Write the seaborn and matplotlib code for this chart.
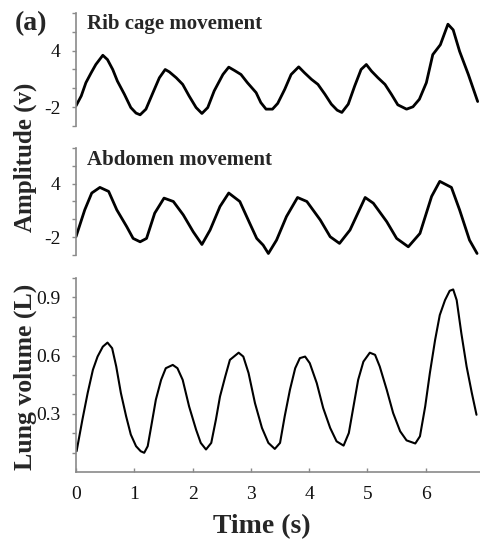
import matplotlib
matplotlib.use("Agg")
import matplotlib.pyplot as plt
import seaborn as sns

# ---------------- data ----------------
rib_t = [0.00, 0.09, 0.17, 0.26, 0.34, 0.46, 0.54, 0.63, 0.71, 0.83, 0.94, 1.03, 1.10,
         1.20, 1.32, 1.43, 1.53, 1.60, 1.72, 1.83, 1.94, 2.06, 2.16, 2.26, 2.37, 2.52,
         2.62, 2.72, 2.83, 2.94, 3.09, 3.17, 3.26, 3.37, 3.46, 3.58, 3.69, 3.82, 3.92,
         4.04, 4.15, 4.27, 4.38, 4.48, 4.56, 4.67, 4.78, 4.89, 4.98, 5.07, 5.18, 5.30,
         5.41, 5.52, 5.67, 5.78, 5.89, 6.01, 6.12, 6.25, 6.38, 6.47, 6.58, 6.73, 6.89]
rib_v = [-1.86, -0.81, 0.60, 1.65, 2.53, 3.51, 3.05, 2.00, 0.77, -0.63, -2.04, -2.63, -2.81,
         -2.21, -0.46, 1.12, 2.00, 1.75, 1.12, 0.42, -0.81, -2.04, -2.67, -2.04, -0.28, 1.47,
         2.25, 1.89, 1.47, 0.60, -0.46, -1.51, -2.21, -2.21, -1.60, -0.11, 1.47, 2.28, 1.65,
         0.95, 0.42, -0.63, -1.68, -2.32, -2.56, -1.68, 0.24, 2.00, 2.53, 1.82, 1.12, 0.42,
         -0.63, -1.75, -2.21, -1.96, -1.16, 0.60, 3.58, 4.63, 6.81, 6.21, 3.93, 1.47, -1.40]

abd_t = [0.00, 0.15, 0.27, 0.41, 0.56, 0.70, 0.87, 0.98, 1.10, 1.21, 1.35, 1.51, 1.67,
         1.84, 2.01, 2.16, 2.30, 2.47, 2.62, 2.81, 2.98, 3.10, 3.21, 3.30, 3.44, 3.61,
         3.80, 3.96, 4.19, 4.36, 4.52, 4.70, 4.96, 5.10, 5.33, 5.50, 5.70, 5.90, 6.10,
         6.24, 6.44, 6.58, 6.75, 6.88]
abd_v = [-1.95, 1.06, 2.95, 3.58, 3.13, 1.06, -0.82, -2.14, -2.52, -2.14, 0.69, 2.38, 2.00,
         0.50, -1.39, -2.82, -1.20, 1.44, 2.95, 2.00, -0.44, -2.14, -2.89, -3.83, -2.33, 0.31,
         2.45, 2.00, -0.07, -1.95, -2.70, -1.20, 2.45, 1.81, -0.26, -2.14, -3.08, -1.58, 2.57,
         4.26, 3.58, 1.06, -2.33, -3.83]

lung_t = [0.01, 0.11, 0.20, 0.29, 0.37, 0.46, 0.54, 0.62, 0.69, 0.77, 0.86, 0.94, 1.03,
          1.11, 1.17, 1.23, 1.29, 1.37, 1.46, 1.54, 1.66, 1.74, 1.83, 1.94, 2.06, 2.14,
          2.23, 2.32, 2.40, 2.47, 2.56, 2.64, 2.79, 2.87, 2.96, 3.07, 3.19, 3.30, 3.41,
          3.50, 3.58, 3.67, 3.76, 3.84, 3.93, 4.01, 4.13, 4.24, 4.36, 4.47, 4.59, 4.68,
          4.76, 4.84, 4.93, 5.04, 5.13, 5.21, 5.33, 5.44, 5.56, 5.67, 5.82, 5.90, 5.99,
          6.07, 6.16, 6.24, 6.33, 6.41, 6.47, 6.53, 6.61, 6.70, 6.79, 6.87]
lung_v = [0.107, 0.27, 0.407, 0.527, 0.595, 0.646, 0.667, 0.638, 0.544, 0.407, 0.287, 0.193,
          0.133, 0.107, 0.099, 0.133, 0.235, 0.373, 0.475, 0.535, 0.552, 0.535, 0.475, 0.338,
          0.218, 0.150, 0.116, 0.150, 0.27, 0.389, 0.492, 0.578, 0.615, 0.595, 0.510, 0.355,
          0.227, 0.150, 0.119, 0.150, 0.287, 0.424, 0.535, 0.587, 0.595, 0.561, 0.458, 0.330,
          0.227, 0.158, 0.136, 0.201, 0.338, 0.475, 0.569, 0.615, 0.604, 0.544, 0.424, 0.304,
          0.210, 0.163, 0.147, 0.184, 0.338, 0.510, 0.681, 0.809, 0.886, 0.934, 0.941, 0.886,
          0.715, 0.544, 0.407, 0.295]

amp_ticks = [-4, -2, 0, 2, 4, 6, 8]
amp_labels = ["", "-2", "", "", "4", "", ""]
lung_ticks = [0.1, 0.2, 0.3, 0.4, 0.5, 0.6, 0.7, 0.8, 0.9, 1.0]
lung_labels = ["", "", "0.3", "", "", "0.6", "", "", "0.9", ""]
time_ticks = [0, 1, 2, 3, 4, 5, 6]

# ---------------- style ----------------
sns.set_style("ticks")
plt.rcParams["font.family"] = ["Liberation Serif", "DejaVu Serif"]
plt.rcParams["lines.solid_joinstyle"] = "round"
plt.rcParams["lines.solid_capstyle"] = "round"
SPINE = "#8a8a8a"

W, H = 480, 543
fig = plt.figure(figsize=(W / 100, H / 100), dpi=100)

def ax_px(top, bottom, left=76, right=480):
    return fig.add_axes([left / W, 1 - bottom / H, (right - left) / W, (bottom - top) / H])

ax1 = ax_px(13, 126)
ax2 = ax_px(148, 255)
ax3 = ax_px(278, 472)

sns.lineplot(x=rib_t, y=rib_v, ax=ax1, color="black", lw=2.0)
sns.lineplot(x=abd_t, y=abd_v, ax=ax2, color="black", lw=2.0)
sns.lineplot(x=lung_t, y=lung_v, ax=ax3, color="black", lw=1.5)

for ax in (ax1, ax2, ax3):
    ax.set_xlim(0, 6.93)
    for s in ("top", "right"):
        ax.spines[s].set_visible(False)
    ax.spines["left"].set_color(SPINE)
    ax.spines["left"].set_linewidth(1.2)
    ax.tick_params(axis="y", colors=SPINE, length=3, width=1, labelsize=14, pad=8,
                   labelcolor="#111111")
    ax.set_xlabel("")
    ax.set_ylabel("")

for ax in (ax1, ax2):
    ax.set_ylim(-4, 8)
    ax.set_yticks(amp_ticks)
    ax.set_yticklabels(amp_labels)
    ax.spines["bottom"].set_visible(False)
    ax.set_xticks([])

ax3.set_ylim(0, 1.0)
ax3.set_yticks(lung_ticks)
ax3.set_yticklabels(lung_labels)
ax3.spines["bottom"].set_color(SPINE)
ax3.spines["bottom"].set_linewidth(1.2)
ax3.set_xticks(time_ticks)
ax3.set_xticklabels([str(t) for t in time_ticks])
ax3.tick_params(axis="x", colors=SPINE, direction="in", length=3, width=1, labelsize=14,
                pad=10, labelcolor="#111111")

fig.text(87 / W, 1 - 14 / H, "Rib cage movement", fontsize=15, fontweight="bold",
         va="top", ha="left")
fig.text(87 / W, 1 - 150 / H, "Abdomen movement", fontsize=15, fontweight="bold",
         va="top", ha="left")

fig.text(15 / W, 1 - 24 / H, "(a)", fontsize=20, fontweight="bold", va="center", ha="left")
fig.text(25 / W, 1 - 157 / H, "Amplitude (v)", fontsize=18, fontweight="bold",
         rotation=90, va="center", ha="center")
fig.text(25 / W, 1 - 377 / H, "Lung volume (L)", fontsize=18.5, fontweight="bold",
         rotation=90, va="center", ha="center")
fig.text(262 / W, 1 - 527 / H, "Time (s)", fontsize=20, fontweight="bold",
         va="center", ha="center")

fig.savefig("out.png", dpi=100)
